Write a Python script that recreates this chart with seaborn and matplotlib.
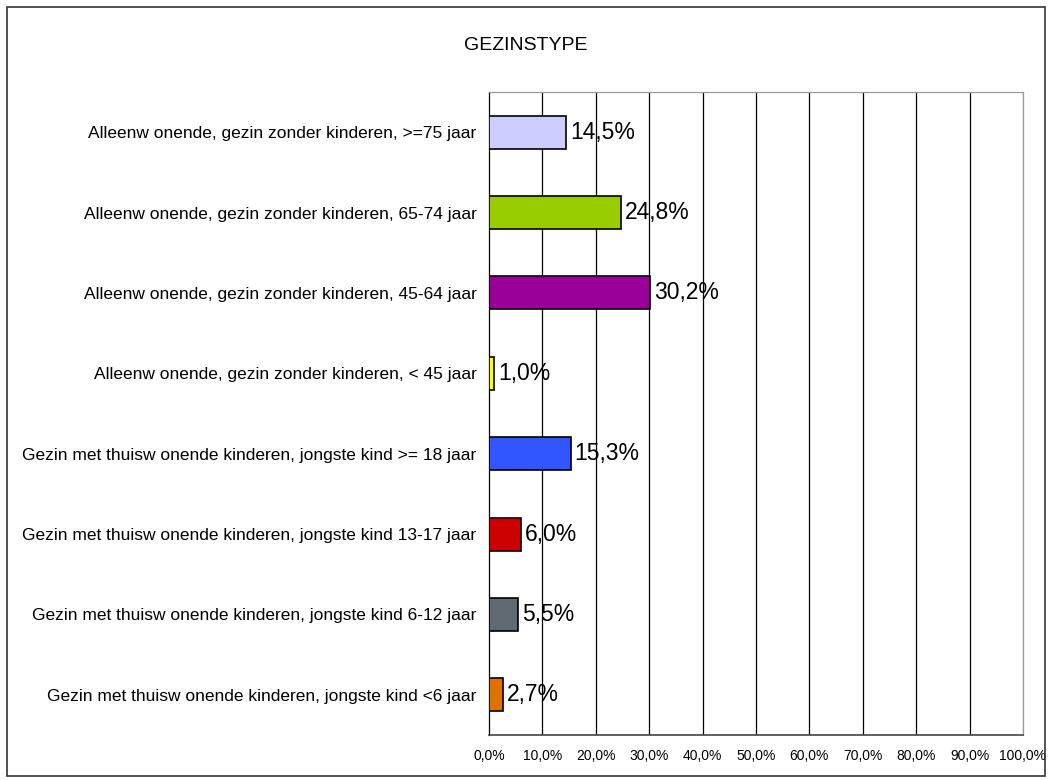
import matplotlib
matplotlib.use("Agg")
import matplotlib.pyplot as plt
import seaborn as sns
import pandas as pd
import numpy as np

categories = [
    "Alleenw onende, gezin zonder kinderen, >=75 jaar",
    "Alleenw onende, gezin zonder kinderen, 65-74 jaar",
    "Alleenw onende, gezin zonder kinderen, 45-64 jaar",
    "Alleenw onende, gezin zonder kinderen, < 45 jaar",
    "Gezin met thuisw onende kinderen, jongste kind >= 18 jaar",
    "Gezin met thuisw onende kinderen, jongste kind 13-17 jaar",
    "Gezin met thuisw onende kinderen, jongste kind 6-12 jaar",
    "Gezin met thuisw onende kinderen, jongste kind <6 jaar",
]
values = [14.5, 24.8, 30.2, 1.0, 15.3, 6.0, 5.5, 2.7]
colors = ["#CCCCFF", "#99CC00", "#990099", "#FFFF00", "#3355FF", "#CC0000", "#5F6A72", "#E07000"]
xticks = [0, 10, 20, 30, 40, 50, 60, 70, 80, 90, 100]

sns.set_style("white")
plt.rcParams['font.family'] = ['Liberation Sans', 'DejaVu Sans']
plt.rcParams['text.color'] = 'black'
plt.rcParams['xtick.color'] = 'black'
plt.rcParams['ytick.color'] = 'black'
plt.rcParams['xtick.labelcolor'] = 'black'
plt.rcParams['ytick.labelcolor'] = 'black'

df = pd.DataFrame({"cat": categories, "val": values})

fig = plt.figure(figsize=(10.52, 7.8), dpi=100)
ax = fig.add_axes([489/1052, 1 - 735/780, (1023-489)/1052, (735-92)/780])

sns.barplot(data=df, x="val", y="cat", hue="cat", palette=colors, legend=False,
            orient="h", width=0.41, saturation=1, edgecolor="black", linewidth=1.2,
            ax=ax, zorder=3)

ax.set_xlim(0, 100)
ax.set_ylim(len(categories) - 0.5, -0.5)
ax.set_xticks(xticks)
ax.set_xticklabels([f"{t:.1f}%".replace(".", ",") for t in xticks], fontsize=10)
ax.set_xlabel("")
ax.set_ylabel("")
for t in xticks[1:]:
    ax.axvline(t, color="black" if t != 100 else "#999999", lw=0.9, zorder=1)

ax.set_yticks(range(len(categories)))
ax.set_yticklabels(categories, fontsize=12.5)
ax.tick_params(axis="y", which="major", length=0, pad=9)
ax.set_yticks(np.arange(-0.5, len(categories) + 0.5, 1), minor=True)
ax.tick_params(axis="y", which="minor", length=5, direction="out", color="black", width=0.9)
ax.tick_params(axis="x", which="major", length=5, direction="out", color="#333333", width=0.9, pad=5)

for side in ["top", "right"]:
    ax.spines[side].set_color("#999999")
    ax.spines[side].set_linewidth(0.9)
ax.spines["left"].set_color("black")
ax.spines["left"].set_linewidth(0.9)
ax.spines["bottom"].set_color("#444444")
ax.spines["bottom"].set_linewidth(1.2)

for i, v in enumerate(values):
    ax.text(v + 0.7, i, f"{v:.1f}%".replace(".", ","), va="center", ha="left", fontsize=16.5, zorder=4)

fig.text(0.5, 1 - 45/780, "GEZINSTYPE", ha="center", va="center", fontsize=14)

border = plt.Rectangle((7/1052, 1 - 776/780), (1045-7)/1052, (776-7)/780, transform=fig.transFigure,
                       fill=False, edgecolor="#333333", lw=1.2)
fig.patches.append(border)

fig.savefig("out.png", dpi=100)
